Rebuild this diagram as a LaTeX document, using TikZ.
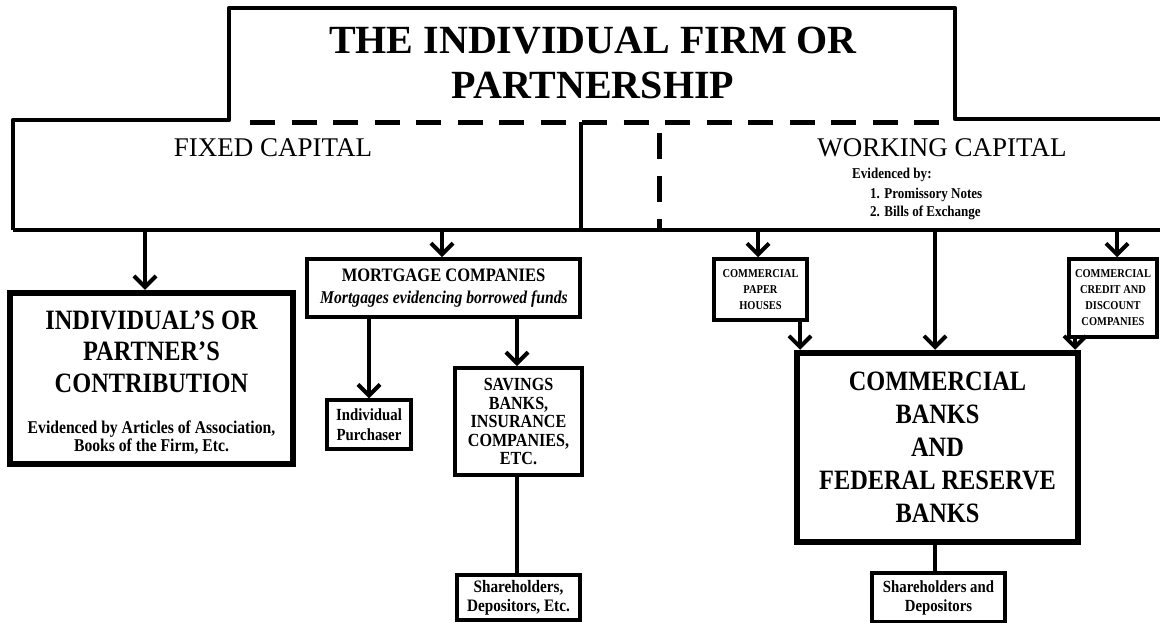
\documentclass[tikz,border=0pt]{standalone}
\usepackage{fontspec}
\setmainfont{Liberation Serif}
\newfontfamily\bxfont[FakeStretch=0.87]{Liberation Serif}
\usetikzlibrary{arrows.meta}
\begin{document}
\begin{tikzpicture}[x=1pt,y=-1pt,
  outl/.style={line width=4.5pt, line join=round},
  dashline/.style={line width=5pt, dash pattern=on 25pt off 16.5pt},
  bigbox/.style={draw, line width=6.5pt, inner sep=0pt, align=center},
  midbox/.style={draw, line width=4pt, inner sep=0pt, align=center},
  smallbox/.style={draw, line width=3.5pt, inner sep=0pt, align=center},
  arr/.style={line width=4pt, -{Straight Barb[length=11pt,width=22pt]}},
  conn/.style={line width=4pt},
  lbl/.style={inner sep=0pt, align=center}
]
\useasboundingbox (0,0) rectangle (1160,622);
% regions of the top frame
\node[inner sep=0pt, minimum width=568pt, minimum height=110pt] (fc) at (297,175) {};
\node[inner sep=0pt, minimum width=579pt, minimum height=110pt] (wc) at (870.5,175) {};
% outline
\draw[outl] (13,230) -- (13,120) -- (229,120) -- (229,8) -- (955,8) -- (955,119) -- (1165,119);
\draw[outl] (13,230) -- (1165,230);
\draw[outl] (581,122) -- (581,230);
\draw[dashline] (250,122) -- (940,122);
\draw[line width=5pt, dash pattern=on 26pt off 17pt] (659,133) -- (659,230);
% texts of the top frame
\node[lbl, anchor=north, font=\bfseries\fontsize{40}{45}\selectfont] (title) at (593,27) {THE INDIVIDUAL FIRM OR\\PARTNERSHIP};
\node[lbl, font=\fontsize{27}{30}\selectfont] (fct) at (273,148) {FIXED CAPITAL};
\node[lbl, font=\fontsize{27}{30}\selectfont] (wct) at (942,148) {WORKING CAPITAL};
\node[lbl, anchor=base west, font=\bxfont\bfseries\fontsize{15}{18}\selectfont] (ev) at (852,178) {Evidenced by:};
\node[lbl, anchor=base west, font=\bxfont\bfseries\fontsize{15}{18}\selectfont] (ev1) at (870,198) {1. Promissory Notes};
\node[lbl, anchor=base west, font=\bxfont\bfseries\fontsize{15}{18}\selectfont] (ev2) at (870,216) {2. Bills of Exchange};
% left boxes
\node[bigbox, minimum width=283pt, minimum height=171pt] (ind) at (151.5,378.5) {};
\node[lbl, anchor=north, font=\bxfont\bfseries\fontsize{28}{31.5}\selectfont] (indT) at (151.5,310.5) {INDIVIDUAL’S OR\\PARTNER’S\\CONTRIBUTION};
\node[lbl, anchor=north, font=\bxfont\bfseries\fontsize{18}{18}\selectfont] (indS) at (151.5,421) {Evidenced by Articles of Association,\\Books of the Firm, Etc.};
\node[midbox, minimum width=273pt, minimum height=58pt] (mort) at (443.5,288) {};
\node[lbl, font=\bxfont\bfseries\fontsize{19}{23}\selectfont] (mortT) at (443.5,275) {MORTGAGE COMPANIES};
\node[lbl, anchor=base, font=\bxfont\bfseries\itshape\fontsize{18}{23}\selectfont] (mortS) at (444,303) {Mortgages evidencing borrowed funds};
\node[smallbox, minimum width=84pt, minimum height=49pt, font=\bxfont\bfseries\fontsize{17}{20}\selectfont] (purch) at (369,424.5) {Individual\\Purchaser};
\node[midbox, minimum width=127pt, minimum height=107pt, font=\bxfont\bfseries\fontsize{18.5}{18.5}\selectfont] (sav) at (518.5,421.5) {SAVINGS\\BANKS,\\INSURANCE\\COMPANIES,\\ETC.};
\node[smallbox, minimum width=123pt, minimum height=45pt, font=\bxfont\bfseries\fontsize{17.5}{19}\selectfont] (sha) at (518.5,597.5) {Shareholders,\\Depositors, Etc.};
% right boxes
\node[smallbox, minimum width=93pt, minimum height=61pt, font=\bxfont\bfseries\fontsize{12}{16}\selectfont] (paper) at (760.5,289.5) {COMMERCIAL\\PAPER\\HOUSES};
\node[smallbox, minimum width=88pt, minimum height=78pt, font=\bxfont\bfseries\fontsize{12}{16}\selectfont] (credit) at (1113,298) {COMMERCIAL\\CREDIT AND\\DISCOUNT\\COMPANIES};
\node[bigbox, minimum width=281pt, minimum height=189pt, font=\bxfont\bfseries\fontsize{28}{33}\selectfont] (banks) at (937.5,447.5) {COMMERCIAL\\BANKS\\AND\\FEDERAL RESERVE\\BANKS};
\node[smallbox, minimum width=133pt, minimum height=49pt, font=\bxfont\bfseries\fontsize{17}{19}\selectfont] (shb) at (938.5,597.5) {Shareholders and\\Depositors};
% connectors
\coordinate (a1) at (145,230);
\coordinate (a2) at (442,230);
\coordinate (a3) at (758,230);
\coordinate (a4) at (935,230);
\coordinate (a5) at (1117,230);
\draw[arr] (a1) -- (a1 |- ind.north);
\draw[arr] (a2) -- (a2 |- mort.north);
\draw[arr] (mort.south -| purch.north) -- (purch.north);
\draw[arr] (mort.south -| 517,0) -- (sav.north -| 517,0);
\draw[conn] (sav.south -| 517,0) -- (sha.north -| 517,0);
\draw[arr] (a3) -- (a3 |- paper.north);
\draw[arr] (a4) -- (a4 |- banks.north);
\draw[arr] (a5) -- (a5 |- credit.north);
\draw[arr] (paper.south -| 800,0) -- (banks.north -| 800,0);
\draw[arr] (credit.south -| 1075,0) -- (banks.north -| 1075,0);
\draw[conn] (banks.south -| 935,0) -- (shb.north -| 935,0);
\end{tikzpicture}
\end{document}
